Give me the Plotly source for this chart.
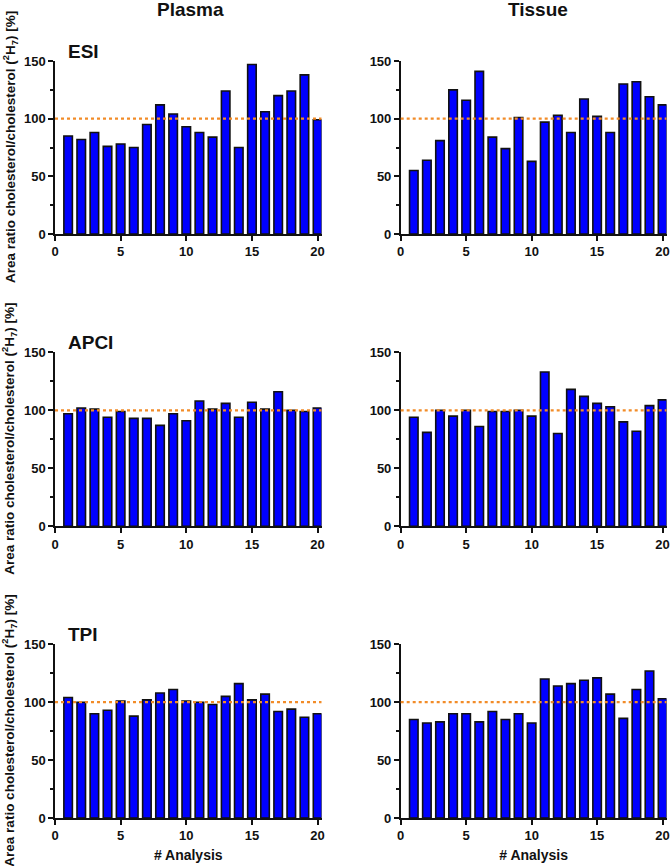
import plotly.graph_objects as go

analysis = list(range(1, 21))

esi_plasma = [85, 82, 88, 76, 78, 75, 95, 112, 104, 93, 88, 84, 124, 75, 147, 106, 120, 124, 138, 99]
esi_tissue = [55, 64, 81, 125, 116, 141, 84, 74, 101, 63, 97, 103, 88, 117, 102, 88, 130, 132, 119, 112]
apci_plasma = [97, 102, 101, 94, 99, 93, 93, 87, 97, 91, 108, 101, 106, 94, 107, 101, 116, 100, 99, 102]
apci_tissue = [94, 81, 100, 95, 100, 86, 99, 99, 100, 95, 133, 80, 118, 112, 106, 103, 90, 82, 104, 109]
tpi_plasma = [104, 100, 90, 93, 101, 88, 102, 108, 111, 101, 100, 98, 105, 116, 102, 107, 92, 94, 87, 90]
tpi_tissue = [85, 82, 83, 90, 90, 83, 92, 85, 90, 82, 120, 114, 116, 119, 121, 107, 86, 111, 127, 103]

columns = ["Plasma", "Tissue"]
rows = ["ESI", "APCI", "TPI"]
series = [[esi_plasma, esi_tissue], [apci_plasma, apci_tissue], [tpi_plasma, tpi_tissue]]
reference = 100
y_ticks = [0, 50, 100, 150]
x_ticks = [0, 5, 10, 15, 20]
y_title = "Area ratio cholesterol/cholesterol (<sup>2</sup>H<sub>7</sub>) [%]"
x_title = "# Analysis"

W, H = 671, 866
FONT = "Liberation Sans, Arial, sans-serif"
INK = "#111111"

# pixel layout
col_px = [(55, 321.5), (400.7, 666.5)]
row_px = [(61, 234), (352.3, 526.3), (644.3, 818)]

fig = go.Figure()
shapes = []
annotations = []

for r in range(3):
    for c in range(2):
        idx = r * 2 + c + 1
        xa = "x" if idx == 1 else f"x{idx}"
        ya = "y" if idx == 1 else f"y{idx}"
        fig.add_trace(go.Bar(
            x=analysis, y=series[r][c], width=0.65,
            marker=dict(color="#0000FF", line=dict(color=INK, width=1.6)),
            xaxis=xa, yaxis=ya, showlegend=False,
        ))
        x0, x1 = col_px[c]
        y0, y1 = row_px[r]
        xkey = "xaxis" if idx == 1 else f"xaxis{idx}"
        ykey = "yaxis" if idx == 1 else f"yaxis{idx}"
        xdict = dict(
            domain=[x0 / W, x1 / W], range=[0, 20.3], anchor=ya, automargin=False,
            tickvals=x_ticks, ticks="outside", ticklen=5, tickwidth=1.5,
            tickcolor=INK, showline=True, linecolor=INK, linewidth=1.5,
            showgrid=False, zeroline=False,
            tickfont=dict(family=FONT, size=13, color=INK, weight="bold"),
        )
        if r == 2:
            xdict["title"] = dict(text=x_title,
                                  font=dict(family=FONT, size=14, color=INK, weight="bold"),
                                  standoff=8)
        fig.update_layout({
            xkey: xdict,
            ykey: dict(
                domain=[1 - y1 / H, 1 - y0 / H], range=[0, 150], anchor=xa, automargin=False,
                tickvals=y_ticks, ticks="outside", ticklen=5, tickwidth=1.5,
                tickcolor=INK, showline=True, linecolor=INK, linewidth=1.5,
                showgrid=False, zeroline=False,
                minor=dict(dtick=25, tick0=0, ticks="outside", ticklen=3, tickwidth=1.5,
                           tickcolor=INK, showgrid=False),
                tickfont=dict(family=FONT, size=13, color=INK, weight="bold"),
            ),
        })
        shapes.append(dict(
            type="line", xref=f"{xa} domain", yref=ya, x0=0, x1=1, y0=reference, y1=reference,
            line=dict(color="#F28C28", width=2.2, dash="dot"), layer="above",
        ))
    # row label
    annotations.append(dict(
        text=rows[r], xref="paper", yref="paper", x=66 / W,
        y=1 - (row_px[r][0] - 10) / H, xanchor="left", yanchor="middle", showarrow=False,
        font=dict(family=FONT, size=19, color=INK, weight="bold"),
    ))
    # y-axis title
    annotations.append(dict(
        text=y_title, xref="paper", yref="paper", x=9.5 / W,
        y=1 - (sum(row_px[r]) / 2) / H, xanchor="center", yanchor="middle",
        textangle=-90, showarrow=False,
        font=dict(family=FONT, size=13.5, color=INK, weight="bold"),
    ))

for c in range(2):
    annotations.append(dict(
        text=columns[c], xref="paper", yref="paper",
        x=(sum(col_px[c]) / 2 + 2 + c * 2) / W,
        y=1 - 10 / H, xanchor="center", yanchor="middle", showarrow=False,
        font=dict(family=FONT, size=19, color=INK, weight="bold"),
    ))

fig.update_layout(
    width=W, height=H, margin=dict(l=0, r=0, t=0, b=0, autoexpand=False),
    paper_bgcolor="white", plot_bgcolor="white",
    shapes=shapes, annotations=annotations,
)

fig.write_html("out.html")
